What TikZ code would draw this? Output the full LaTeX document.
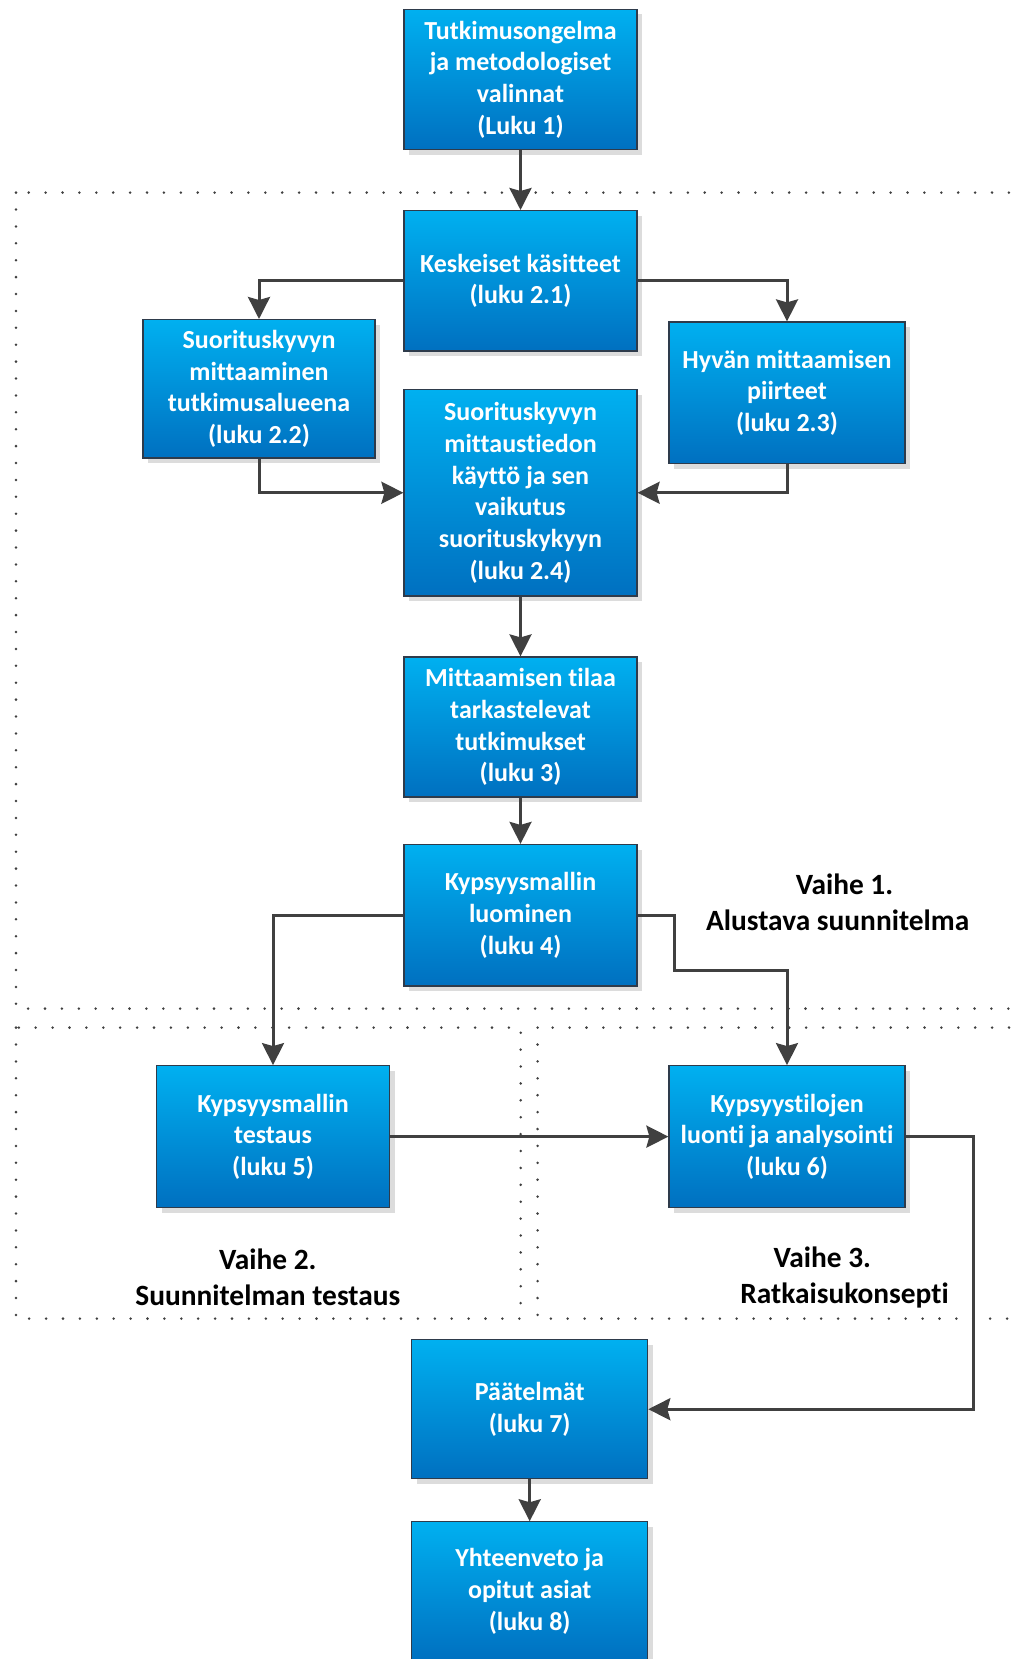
\documentclass[tikz,border=0pt]{standalone}
\usepackage{fontspec}
\setmainfont{Carlito}[Ligatures=NoCommon]
\usetikzlibrary{arrows.meta,shadows}
\definecolor{boxtop}{HTML}{00B0F0}
\definecolor{boxbot}{HTML}{0070C0}
\definecolor{boxedge}{HTML}{2E3B4B}
\definecolor{wire}{HTML}{404040}
\definecolor{shade}{HTML}{DCDCDC}

\begin{document}
\begin{tikzpicture}[x=1pt,y=-1pt,
  stage/.style={draw=boxedge, line width=1.2pt, top color=boxtop, bottom color=boxbot,
    text=white, font=\fontsize{26}{31.75}\selectfont\bfseries, align=center,
    inner sep=0pt, minimum width=233pt, minimum height=140.5pt,
    general shadow={fill=shade, shadow xshift=5pt, shadow yshift=-5pt}},
  link/.style={draw=wire, line width=3pt, -{Stealth[inset=3pt,width=22pt,length=22pt]}},
  phase/.style={draw=wire, line width=2.8pt, line cap=round, dash pattern=on 0pt off 16.9pt},
  phasetext/.style={font=\fontsize{29.4}{36}\selectfont\bfseries, align=center, text=black, inner sep=0pt}
]
\useasboundingbox (0,0) rectangle (1016,1659);
\clip (0,0) rectangle (1016,1659);

% phase regions
\draw[phase] (16,192.6) rectangle (1040,1008.6);
\draw[phase] (16,1027.6) rectangle (520.7,1318.6);
\draw[phase] (537.6,1027.6) rectangle (1040,1318.6);

% chapters
\node[stage] (b1) at (520.5,79.5) {Tutkimusongelma\\ja metodologiset\\valinnat\\(Luku 1)};
\node[stage, minimum height=140.4pt] (b2) at (520.5,280.8) {Keskeiset käsitteet\\(luku 2.1)};
\node[stage, minimum width=232pt, minimum height=138.4pt] (b3) at (259,388.8) {Suorituskyvyn\\mittaaminen\\tutkimusalueena\\(luku 2.2)};
\node[stage, minimum width=236pt, minimum height=141.5pt] (b4) at (787,392.75) {Hyvän mittaamisen\\piirteet\\(luku 2.3)};
\node[stage, minimum height=206.5pt] (b5) at (520.5,492.75) {Suorituskyvyn\\mittaustiedon\\käyttö ja sen\\vaikutus\\suorituskykyyn\\(luku 2.4)};
\node[stage, minimum height=140pt] (b6) at (520.5,727) {Mittaamisen tilaa\\tarkastelevat\\tutkimukset\\(luku 3)};
\node[stage, minimum height=141.5pt] (b7) at (520.5,915.25) {Kypsyysmallin\\luominen\\(luku 4)};
\node[stage, minimum height=141.8pt] (b8) at (273,1136.6) {Kypsyysmallin\\testaus\\(luku 5)};
\node[stage, minimum width=236pt, minimum height=141.8pt] (b9) at (787,1136.6) {Kypsyystilojen\\luonti ja analysointi\\(luku 6)};
\node[stage, minimum width=236pt, minimum height=138.7pt] (b10) at (529.7,1409.2) {Päätelmät\\(luku 7)};
\node[stage, minimum width=236pt, minimum height=138.7pt] (b11) at (529.7,1591.2) {Yhteenveto ja\\opitut asiat\\(luku 8)};

% phase titles
\node[phasetext] (t1) at (837.6,902.7) {\hspace*{13.8pt}Vaihe 1.\\Alustava suunnitelma};
\node[phasetext] (t2) at (267.8,1277.4) {Vaihe 2.\\Suunnitelman testaus};
\node[phasetext] (t3) at (844.5,1277.4) {Vaihe 3.\hspace*{44.4pt}\\Ratkaisukonsepti};

% bend points
\coordinate (k1) at (674,970.5);
\coordinate (k2) at (973.6,1409.2);

% connectors
\draw[link] (b1.south) -- (b2.north);
\draw[link] (b2.west) -| (b3.north);
\draw[link] (b2.east) -| (b4.north);
\draw[link] (b3.south) |- (b5.west);
\draw[link] (b4.south) |- (b5.east);
\draw[link] (b5.south) -- (b6.north);
\draw[link] (b6.south) -- (b7.north);
\draw[link] (b7.west) -| (b8.north);
\draw[link] (b7.east) -| (k1) -| (b9.north);
\draw[link] (b8.east) -- (b9.west);
\draw[link] (b9.east) -| (k2) -- (b10.east);
\draw[link] (b10.south) -- (b11.north);
\end{tikzpicture}
\end{document}
